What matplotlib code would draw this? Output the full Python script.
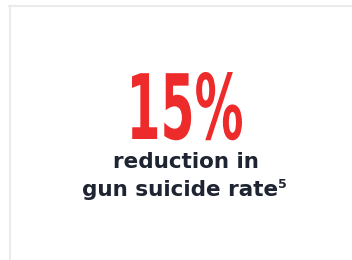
import matplotlib
matplotlib.use("Agg")
import matplotlib.pyplot as plt
from matplotlib.patheffects import AbstractPathEffect
from matplotlib.transforms import Affine2D

# the stat shown on the card
stat_value = "15%"
stat_lines = ["reduction in", "gun suicide rate"]
footnote = "5"

RED = "#ee2b2b"
DARK = "#1e2431"
BORDER = "#ebebeb"


class Squeeze(AbstractPathEffect):
    """Narrow the glyphs horizontally around x = cx (display pixels)."""
    def __init__(self, sx, cx):
        super().__init__()
        self.sx = sx
        self.cx = cx

    def draw_path(self, renderer, gc, tpath, affine, rgbFace=None):
        squeeze = Affine2D().translate(-self.cx, 0).scale(self.sx, 1).translate(self.cx, 0)
        renderer.draw_path(gc, tpath, affine + squeeze, rgbFace)


fig = plt.figure(figsize=(3.52, 2.60), dpi=100)
ax = fig.add_axes([0, 0, 1, 1])
ax.set_xlim(0, 352)
ax.set_ylim(260, 0)
ax.axis("off")

# card border (top and left edges)
ax.plot([8, 352], [6, 6], color=BORDER, lw=1.5, solid_capstyle="butt")
ax.plot([10, 10], [5, 260], color=BORDER, lw=1.5, solid_capstyle="butt")

big = ax.text(185, 139, stat_value, color=RED, fontsize=65, fontweight="bold",
              family="DejaVu Sans", ha="center", va="baseline")

ax.text(185.5, 168, stat_lines[0], color=DARK, fontsize=15.5, fontweight="bold",
        family="DejaVu Sans", ha="center", va="baseline")
line2 = ax.text(180, 196, stat_lines[1], color=DARK, fontsize=15.5, fontweight="bold",
                family="DejaVu Sans", ha="center", va="baseline")
ax.annotate(footnote, xy=(1, 178), xycoords=(line2, "data"), xytext=(0.3, 0),
            textcoords="offset points", color=DARK, fontsize=9, fontweight="bold",
            family="DejaVu Sans", ha="left", va="top")

# squeeze the big number to a condensed look
fig.canvas.draw()
bb = big.get_window_extent()
big.set_path_effects([Squeeze(117 / bb.width, (bb.x0 + bb.x1) / 2)])

fig.savefig("out.png", dpi=100, facecolor="white")
